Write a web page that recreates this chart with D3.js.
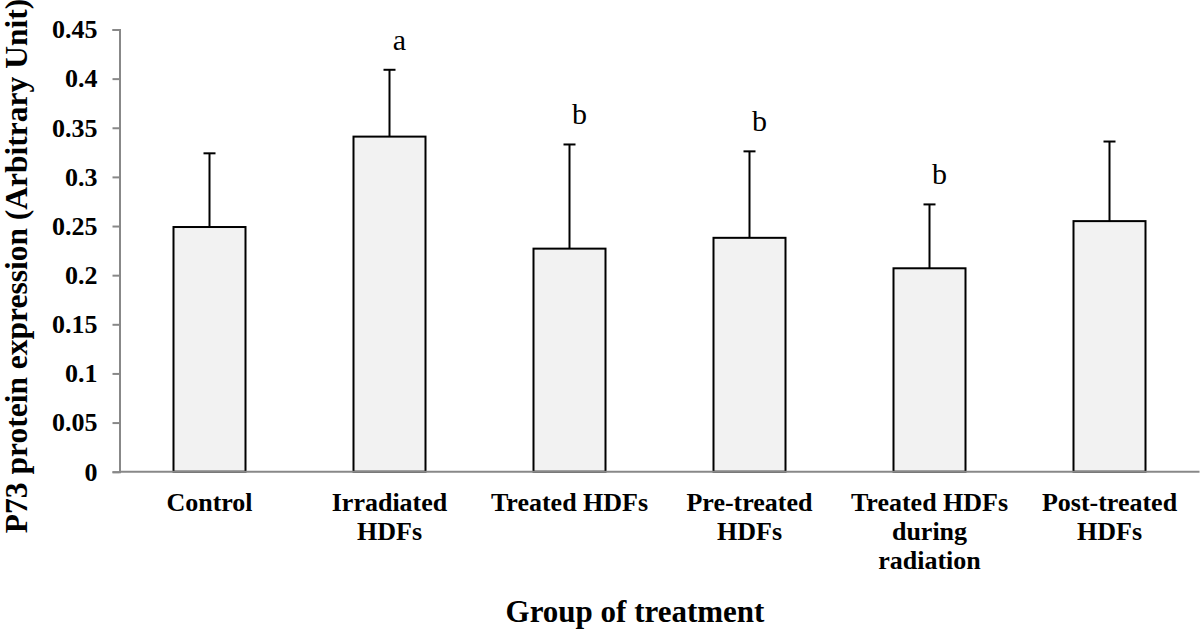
<!DOCTYPE html>
<html>
<head>
<meta charset="utf-8">
<script src="https://cdn.jsdelivr.net/npm/d3@7"></script>
<style>
  body { margin: 0; background: #fff; }
  svg { display: block; font-family: "Liberation Serif", "Times New Roman", serif; }
</style>
</head>
<body>
<svg id="chart"></svg>
<script>
const groups = [
  "Control",
  "Irradiated HDFs",
  "Treated HDFs",
  "Pre-treated HDFs",
  "Treated HDFs during radiation",
  "Post-treated HDFs",
];
// label lines as they wrap under each bar
const groupLines = [
  ["Control"],
  ["Irradiated", "HDFs"],
  ["Treated HDFs"],
  ["Pre-treated", "HDFs"],
  ["Treated HDFs", "during", "radiation"],
  ["Post-treated", "HDFs"],
];
const means = [0.249, 0.341, 0.227, 0.238, 0.207, 0.255];
const errors = [0.075, 0.068, 0.106, 0.088, 0.065, 0.081];
const letters = ["", "a", "b", "b", "b", ""];
const yTicks = [0, 0.05, 0.1, 0.15, 0.2, 0.25, 0.3, 0.35, 0.4, 0.45];

const width = 1200;
const height = 629;
const margin = { top: 29.5, right: 0.5, bottom: 157.3, left: 119.5 };

const svg = d3.select("#chart").attr("width", width).attr("height", height);

const x = d3
  .scaleBand()
  .domain(groups)
  .range([margin.left, width - margin.right])
  .paddingInner(0.6)
  .paddingOuter(0.3);

const y = d3
  .scaleLinear()
  .domain([0, 0.45])
  .range([height - margin.bottom, margin.top]);

// y axis
const yAxis = svg
  .append("g")
  .attr("transform", "translate(" + margin.left + ",0)")
  .call(
    d3
      .axisLeft(y)
      .tickValues(yTicks)
      .tickSize(7)
      .tickPadding(15)
      .tickFormat((d) => (d === 0 ? "0" : String(+d.toFixed(2))))
  );
yAxis.select(".domain").attr("stroke", "#888").attr("stroke-width", 2);
yAxis.selectAll(".tick line").attr("stroke", "#888").attr("stroke-width", 2);
yAxis
  .selectAll(".tick text")
  .attr("fill", "#000")
  .style("font-family", "Liberation Serif")
  .style("font-weight", "bold")
  .style("font-size", "26px");

// bars
svg
  .selectAll(".bar")
  .data(groups)
  .enter()
  .append("rect")
  .attr("class", "bar")
  .attr("x", (d) => x(d))
  .attr("y", (d, i) => y(means[i]))
  .attr("width", x.bandwidth())
  .attr("height", (d, i) => y(0) - y(means[i]))
  .attr("fill", "#f2f2f2")
  .attr("stroke", "#000")
  .attr("stroke-width", 2);

// error bars (upper only)
const err = svg
  .selectAll(".err")
  .data(groups)
  .enter()
  .append("g")
  .attr("class", "err")
  .attr("stroke", "#000")
  .attr("stroke-width", 2);
err
  .append("line")
  .attr("x1", (d) => x(d) + x.bandwidth() / 2)
  .attr("x2", (d) => x(d) + x.bandwidth() / 2)
  .attr("y1", (d, i) => y(means[i]))
  .attr("y2", (d, i) => y(means[i] + errors[i]));
err
  .append("line")
  .attr("x1", (d) => x(d) + x.bandwidth() / 2 - 6)
  .attr("x2", (d) => x(d) + x.bandwidth() / 2 + 6)
  .attr("y1", (d, i) => y(means[i] + errors[i]))
  .attr("y2", (d, i) => y(means[i] + errors[i]));

// x axis line drawn over bar bottoms
svg
  .append("line")
  .attr("x1", margin.left)
  .attr("x2", width - margin.right)
  .attr("y1", y(0))
  .attr("y2", y(0))
  .attr("stroke", "#888")
  .attr("stroke-width", 2);

// significance letters
svg
  .selectAll(".letter")
  .data(groups)
  .enter()
  .append("text")
  .attr("class", "letter")
  .attr("x", (d) => x(d) + x.bandwidth() / 2 + 10)
  .attr("y", (d, i) => y(means[i] + errors[i]) - 20)
  .attr("text-anchor", "middle")
  .style("font-size", "30px")
  .text((d, i) => letters[i]);

// category labels
const labels = svg
  .selectAll(".xlabel")
  .data(groups)
  .enter()
  .append("text")
  .attr("class", "xlabel")
  .attr("text-anchor", "middle")
  .style("font-weight", "bold")
  .style("font-size", "26px");
labels
  .selectAll("tspan")
  .data((d, i) => groupLines[i].map((line) => ({ line: line, g: d })))
  .enter()
  .append("tspan")
  .attr("x", (d) => x(d.g) + x.bandwidth() / 2)
  .attr("y", (d, j) => y(0) + 39 + j * 29)
  .text((d) => d.line);

// axis titles
svg
  .append("text")
  .attr("x", 635)
  .attr("y", 622)
  .attr("text-anchor", "middle")
  .style("font-weight", "bold")
  .style("font-size", "31px")
  .text("Group of treatment");

svg
  .append("text")
  .attr("transform", "translate(27,266) rotate(-90)")
  .attr("text-anchor", "middle")
  .style("font-weight", "bold")
  .style("font-size", "31.5px")
  .text("P73 protein expression (Arbitrary Unit)");
</script>
</body>
</html>
